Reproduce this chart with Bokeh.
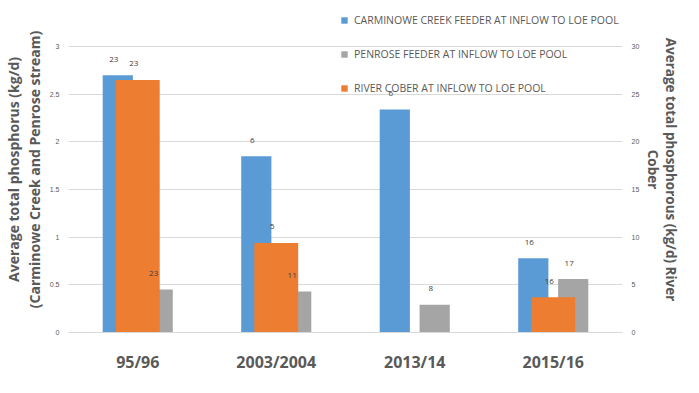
from bokeh.plotting import figure
from bokeh.models import (ColumnDataSource, FactorRange, Range1d, LinearAxis, SingleIntervalTicker,
                          NumeralTickFormatter, Legend, LegendItem)
from bokeh.transform import dodge
from bokeh.embed import file_html
from bokeh.resources import INLINE
from bokeh.core.properties import value

# ---- data ----
years = ["95/96", "2003/2004", "2013/14", "2015/16"]
carminowe = [2.70, 1.85, 2.34, 0.78]          # left axis (kg/d)
penrose = [0.45, 0.43, 0.29, 0.56]            # left axis (kg/d)
cober = [26.5, 9.4, None, 3.7]                # right axis (kg/d)
carminowe_n = ["23", "6", "6", "16"]
penrose_n = ["23", "11", "8", "17"]
cober_n = ["23", "5", "", "16"]

left_title = "Average total phosphorus (kg/d)\n(Carminowe Creek and Penrose stream)"
right_title = "Average total phosphorous (kg/d) River\nCober"
names = ["CARMINOWE CREEK FEEDER AT INFLOW TO LOE POOL",
         "PENROSE FEEDER AT INFLOW TO LOE POOL",
         "RIVER COBER AT INFLOW TO LOE POOL"]

BLUE, GRAY, ORANGE = "#5B9BD5", "#A5A5A5", "#ED7D31"
TXT = "#595959"
FONT = "Open Sans"

# frame runs from the top of the canvas to the x axis; gridlines still stop at 3 / 30
TOP_L, TOP_R = 3.42, 34.2

src_b = ColumnDataSource(dict(x=years, y=carminowe, n=carminowe_n))
src_g = ColumnDataSource(dict(x=years, y=penrose, n=penrose_n))
ci = [i for i, v in enumerate(cober) if v is not None]
src_o = ColumnDataSource(dict(x=[years[i] for i in ci], y=[cober[i] for i in ci], n=[cober_n[i] for i in ci]))

p = figure(width=683, height=377, x_range=FactorRange(*years), y_range=Range1d(0, TOP_L),
           output_backend="svg", toolbar_location=None,
           min_border_left=64, min_border_right=49, min_border_top=6, min_border_bottom=45)
p.extra_y_ranges = {"right": Range1d(0, TOP_R)}
p.outline_line_color = None
p.background_fill_color = "white"
p.border_fill_color = "white"

off, w_main, w_sec = 0.144, 0.218, 0.317

rb = p.vbar(x=dodge("x", -off, range=p.x_range), top="y", width=w_main, source=src_b,
            fill_color=BLUE, line_color=None)
rg = p.vbar(x=dodge("x", off, range=p.x_range), top="y", width=w_main, source=src_g,
            fill_color=GRAY, line_color=None)
ro = p.vbar(x="x", top="y", width=w_sec, source=src_o, y_range_name="right",
            fill_color=ORANGE, line_color=None)

lbl = dict(text="n", text_font_size="8px", text_color="#404040", text_align="center",
           text_baseline="middle", x_offset=-4, y_offset=-16, text_font=value(FONT))
p.text(x=dodge("x", -off, range=p.x_range), y="y", source=src_b, **lbl)
p.text(x=dodge("x", off, range=p.x_range), y="y", source=src_g, **lbl)
p.text(x="x", y="y", source=src_o, y_range_name="right", **lbl)

# axes
p.xaxis.axis_line_color = "#d9d9d9"
p.xaxis.major_tick_line_color = None
p.xaxis.minor_tick_line_color = None
p.xaxis.major_label_text_font_size = "16px"
p.xaxis.major_label_text_font_style = "bold"
p.xaxis.major_label_text_color = TXT
p.xaxis.major_label_text_font = FONT
p.xaxis.major_label_standoff = 12
p.xgrid.grid_line_color = None

title_kw = dict(axis_label_text_font_size="14px", axis_label_text_font_style="bold",
                axis_label_text_color=TXT, axis_label_text_font=FONT,
                axis_label_text_line_height=1.1, axis_label_standoff=3)

ly = p.yaxis[0]
ly.ticker = SingleIntervalTicker(interval=0.5)
ly.formatter = NumeralTickFormatter(format="0.[0]")
ly.axis_line_color = None
ly.major_tick_line_color = None
ly.minor_tick_line_color = None
ly.major_label_text_font_size = "7px"
ly.major_label_text_color = TXT
ly.major_label_standoff = 3
ly.axis_label = left_title
for k, v in title_kw.items():
    setattr(ly, k, v)
p.ygrid.grid_line_color = "#d9d9d9"
p.ygrid.ticker = SingleIntervalTicker(interval=0.5)

ry = LinearAxis(y_range_name="right", ticker=SingleIntervalTicker(interval=5))
ry.axis_line_color = None
ry.major_tick_line_color = None
ry.minor_tick_line_color = None
ry.major_label_text_font_size = "7px"
ry.major_label_text_color = TXT
ry.major_label_standoff = 3
ry.axis_label = right_title
for k, v in title_kw.items():
    setattr(ry, k, v)
ry.axis_label_text_font_size = "13.5px"
ry.axis_label_text_line_height = 1.0
ry.axis_label_standoff = 2
p.add_layout(ry, "right")

legend = Legend(items=[LegendItem(label=names[0], renderers=[rb]),
                       LegendItem(label=names[1], renderers=[rg]),
                       LegendItem(label=names[2], renderers=[ro])],
                location=(272, 237), orientation="vertical",
                glyph_width=8, glyph_height=8, label_standoff=6, label_height=12,
                spacing=20, padding=0, margin=0,
                label_text_font_size="10.5px", label_text_color=TXT, label_text_font=FONT,
                background_fill_alpha=0, border_line_alpha=0)
p.add_layout(legend, "center")

open("out.html", "w").write(file_html(p, INLINE))
